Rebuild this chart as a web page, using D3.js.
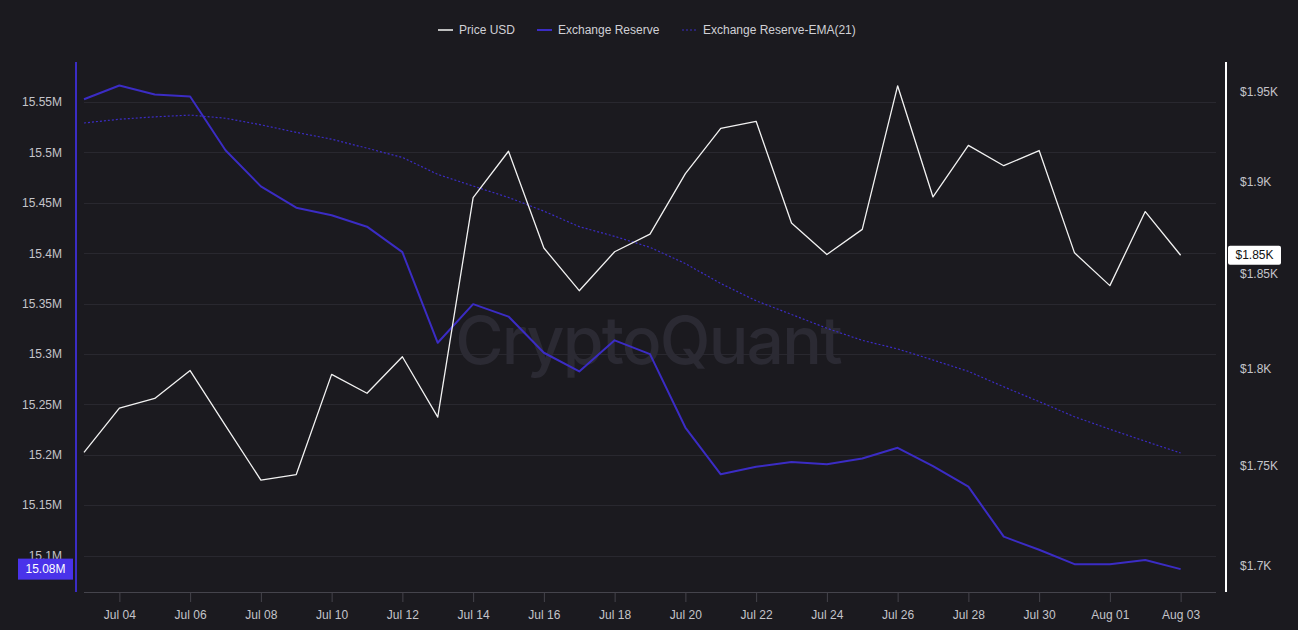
<!DOCTYPE html>
<html>
<head>
<meta charset="utf-8">
<script src="https://cdn.jsdelivr.net/npm/d3@7"></script>
<style>
  html, body { margin: 0; padding: 0; background: #1b1a1f; }
  svg { display: block; }
</style>
</head>
<body>
<svg id="chart" width="1298" height="630"></svg>
<script>
// ---- data ----
const dates = ["2023-07-03","2023-07-04","2023-07-05","2023-07-06","2023-07-07","2023-07-08","2023-07-09","2023-07-10",
  "2023-07-11","2023-07-12","2023-07-13","2023-07-14","2023-07-15","2023-07-16","2023-07-17","2023-07-18",
  "2023-07-19","2023-07-20","2023-07-21","2023-07-22","2023-07-23","2023-07-24","2023-07-25","2023-07-26",
  "2023-07-27","2023-07-28","2023-07-29","2023-07-30","2023-07-31","2023-08-01","2023-08-02","2023-08-03"];
const priceUSD = [1756.6,1779.3,1784.3,1798.8,1770.3,1742.6,1745.4,1796.8,
  1787.0,1806.0,1774.7,1891.2,1916.8,1863.8,1840.9,1861.8,
  1871.3,1904.4,1929.5,1933.5,1877.4,1860.3,1873.9,1953.5,
  1891.6,1920.1,1908.8,1917.2,1861.2,1843.6,1883.6,1859.9];
const exchangeReserve = [15.5527,15.5664,15.5575,15.5555,15.5022,15.4663,15.4451,15.4376,
  15.4263,15.4010,15.3111,15.3494,15.3371,15.3012,15.2827,15.3135,
  15.2998,15.2270,15.1806,15.1881,15.1929,15.1905,15.1963,15.2069,
  15.1888,15.1683,15.1187,15.1057,15.0914,15.0914,15.0955,15.0865];
const reserveEMA21 = [15.5292,15.5329,15.5353,15.5370,15.5339,15.5274,15.5199,15.5131,
  15.5042,15.4950,15.4782,15.4666,15.4553,15.4417,15.4263,15.4167,
  15.4058,15.3897,15.3699,15.3528,15.3392,15.3255,15.3135,15.3050,
  15.2940,15.2827,15.2674,15.2527,15.2377,15.2253,15.2134,15.2017];
const xTickDates = ["2023-07-04","2023-07-06","2023-07-08","2023-07-10","2023-07-12","2023-07-14","2023-07-16","2023-07-18",
  "2023-07-20","2023-07-22","2023-07-24","2023-07-26","2023-07-28","2023-07-30","2023-08-01","2023-08-03"];
const leftTicks = [15.1,15.15,15.2,15.25,15.3,15.35,15.4,15.45,15.5,15.55];
const rightTicks = [1700,1750,1800,1850,1900,1950];
const legendItems = ["Price USD","Exchange Reserve","Exchange Reserve-EMA(21)"];

// ---- styles ----
const BG = "#1b1a1f", PURPLE = "#3b2cc4", PURPLE_BOX = "#4a33ea", GRID = "#29282f",
      AXIS_TXT = "#c4c4ca", FONT = "'Liberation Sans', Arial, sans-serif";

const parse = d3.utcParse("%Y-%m-%d");
const data = dates.map((d, i) => ({ date: parse(d), price: priceUSD[i], res: exchangeReserve[i], ema: reserveEMA21[i] }));

const plot = { left: 84, right: 1216, top: 62, bottom: 592 };
const x = d3.scaleUtc().domain([parse("2023-07-03"), parse("2023-08-04")]).range([plot.left, plot.right]);
const yL = d3.scaleLinear().domain([15.0638, 15.5897]).range([plot.bottom, plot.top]);
const yR = d3.scaleLog().domain([1700, 1950]).range([565.5, 92]);

const svg = d3.select("#chart");
svg.append("rect").attr("width", 1298).attr("height", 630).attr("fill", BG);

// grid
svg.append("g").selectAll("line").data(leftTicks).join("line")
  .attr("x1", plot.left).attr("x2", plot.right)
  .attr("y1", d => Math.round(yL(d)) + 0.5).attr("y2", d => Math.round(yL(d)) + 0.5)
  .attr("stroke", GRID).attr("stroke-width", 1);

// watermark
svg.append("text").attr("x", 648).attr("y", 364).attr("text-anchor", "middle")
  .attr("font-family", "Inter, 'Open Sans', sans-serif").attr("font-weight", 500)
  .attr("font-size", 66).attr("fill", "#2b2a33").attr("letter-spacing", -1.8).text("CryptoQuant");

// bottom axis
const xAxis = d3.axisBottom(x).tickValues(xTickDates.map(parse)).tickFormat(d3.utcFormat("%b %d")).tickSize(10).tickPadding(8);
const gx = svg.append("g").attr("transform", `translate(0,${plot.bottom})`).call(xAxis);
gx.select(".domain").attr("stroke", "#45444c").attr("d", `M${plot.left},0.5H${plot.right}`);
gx.selectAll(".tick line").attr("stroke", "#45444c");
gx.selectAll(".tick text").attr("fill", AXIS_TXT).attr("font-size", 12).attr("font-family", FONT);

// left axis
const leftAxis = d3.axisLeft(yL).tickValues(leftTicks).tickSize(0).tickPadding(14)
  .tickFormat(d => (+d.toFixed(2)) + "M");
const gl = svg.append("g").attr("transform", "translate(76,0)").call(leftAxis);
gl.select(".domain").remove();
gl.selectAll(".tick text").attr("fill", AXIS_TXT).attr("font-size", 12).attr("font-family", FONT);
svg.append("line").attr("x1", 76).attr("x2", 76).attr("y1", plot.top).attr("y2", plot.bottom)
  .attr("stroke", PURPLE).attr("stroke-width", 2);

// right axis
const rightAxis = d3.axisRight(yR).tickValues(rightTicks).tickSize(0).tickPadding(14)
  .tickFormat(d => "$" + (+(d / 1000).toFixed(2)) + "K");
const gr = svg.append("g").attr("transform", "translate(1226,0)").call(rightAxis);
gr.select(".domain").remove();
gr.selectAll(".tick text").attr("fill", AXIS_TXT).attr("font-size", 12).attr("font-family", FONT);
svg.append("line").attr("x1", 1226).attr("x2", 1226).attr("y1", plot.top).attr("y2", plot.bottom)
  .attr("stroke", "#ffffff").attr("stroke-width", 2);

// lines
const lineEMA = d3.line().x(d => x(d.date)).y(d => yL(d.ema));
const lineRes = d3.line().x(d => x(d.date)).y(d => yL(d.res));
const linePrice = d3.line().x(d => x(d.date)).y(d => yR(d.price));
svg.append("path").datum(data).attr("d", lineEMA).attr("fill", "none")
  .attr("stroke", PURPLE).attr("stroke-width", 1.2).attr("stroke-dasharray", "2,2");
svg.append("path").datum(data).attr("d", lineRes).attr("fill", "none")
  .attr("stroke", PURPLE).attr("stroke-width", 2).attr("stroke-linejoin", "round");
svg.append("path").datum(data).attr("d", linePrice).attr("fill", "none")
  .attr("stroke", "#f2f2f2").attr("stroke-width", 1.3).attr("stroke-linejoin", "round");

// last-value labels
const last = data[data.length - 1];
const ly = yL(last.res);
svg.append("rect").attr("x", 18).attr("y", ly - 10.5).attr("width", 55).attr("height", 21).attr("fill", PURPLE_BOX);
svg.append("text").attr("x", 45.5).attr("y", ly).attr("dy", "0.35em").attr("text-anchor", "middle")
  .attr("fill", "#fff").attr("font-size", 12).attr("font-family", FONT)
  .text((Math.floor(last.res * 100) / 100).toFixed(2) + "M");
const ry = yR(last.price);
svg.append("rect").attr("x", 1228).attr("y", ry - 9.5).attr("width", 53).attr("height", 19).attr("rx", 2)
  .attr("fill", "#ffffff");
svg.append("text").attr("x", 1254.5).attr("y", ry).attr("dy", "0.35em").attr("text-anchor", "middle")
  .attr("fill", "#111").attr("font-size", 12).attr("font-family", FONT)
  .text("$" + (Math.floor(last.price / 10) / 100).toFixed(2) + "K");

// legend
const legendX = [438, 537, 682];
const lg = svg.append("g");
legendItems.forEach((name, i) => {
  const g = lg.append("g").attr("transform", `translate(${legendX[i]},29.5)`);
  const ln = g.append("line").attr("x1", 0).attr("x2", 15).attr("y1", 0.5).attr("y2", 0.5).attr("stroke-width", 2);
  if (i === 0) ln.attr("stroke", "#bdbdbd");
  else if (i === 1) ln.attr("stroke", PURPLE);
  else ln.attr("stroke", PURPLE).attr("stroke-width", 1.2).attr("stroke-dasharray", "2,2");
  g.append("text").attr("x", 21).attr("y", 0).attr("dy", "0.35em").attr("fill", "#d0d0d5")
    .attr("font-size", 12).attr("font-family", FONT).text(name);
});
</script>
</body>
</html>
